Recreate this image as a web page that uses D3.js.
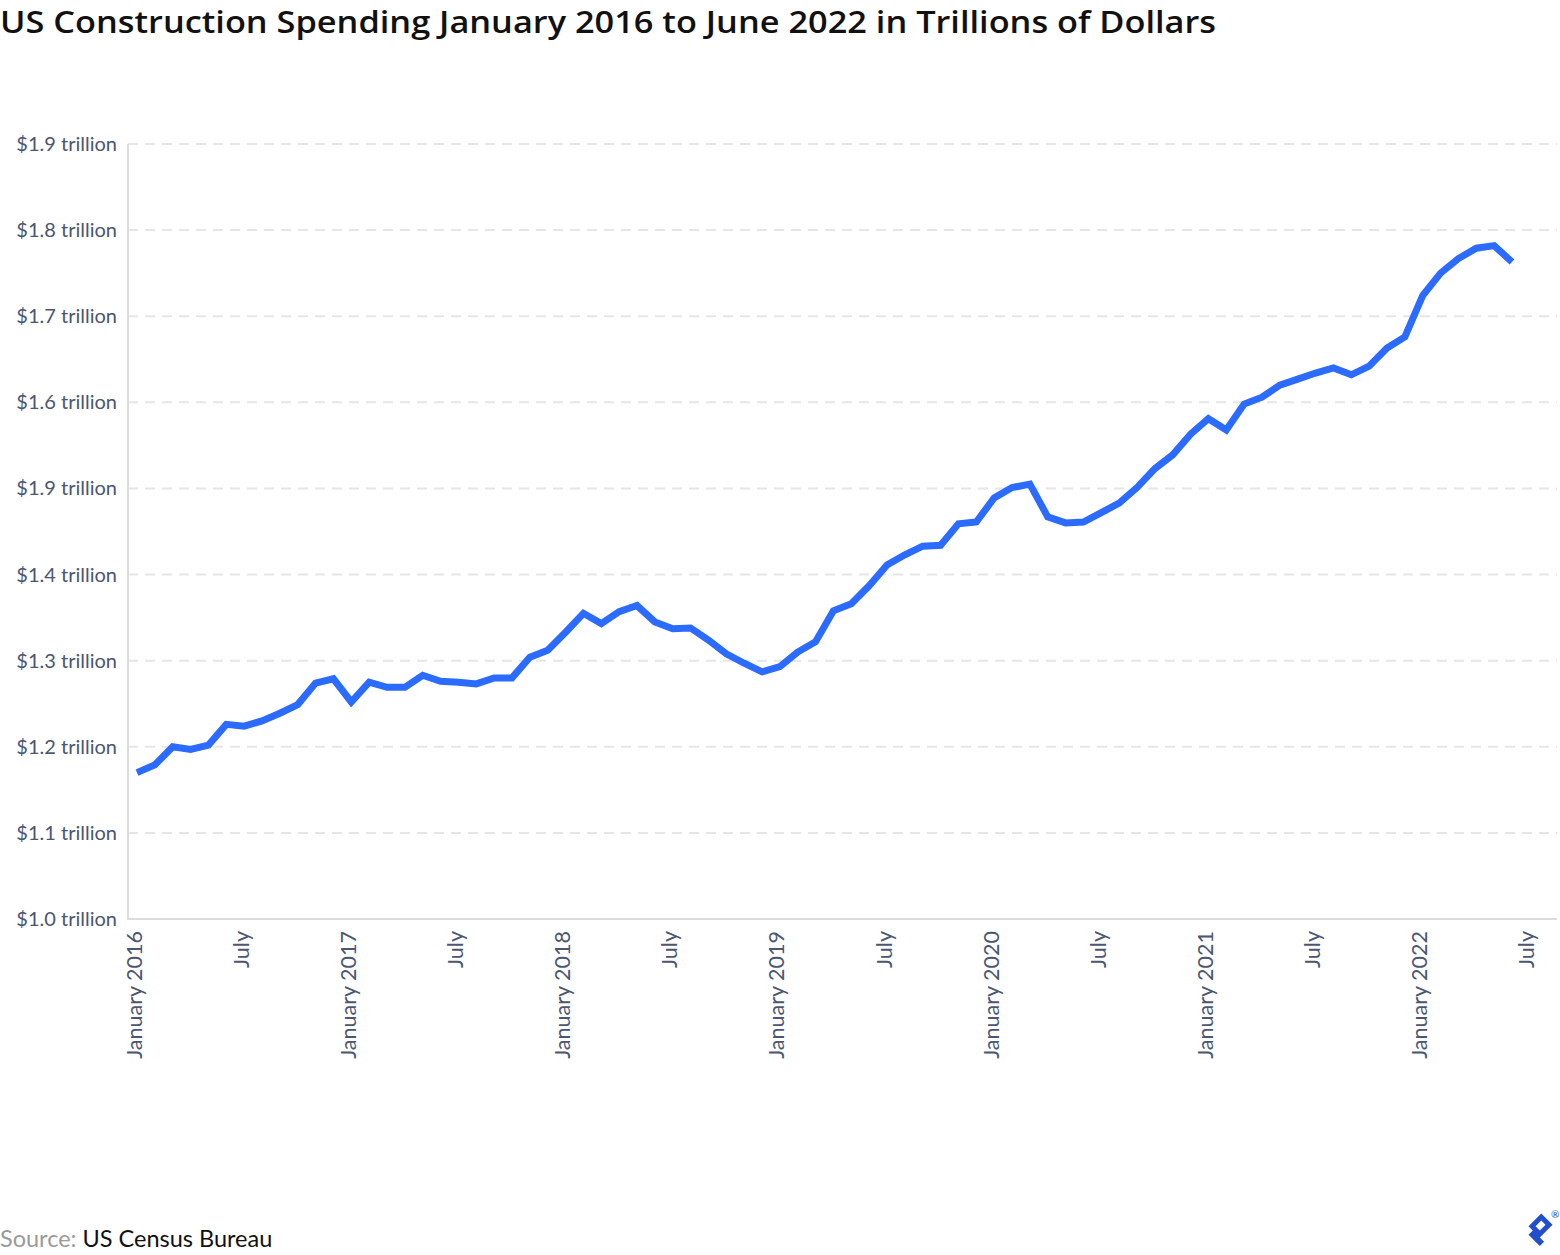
<html>
<head>
<style>
  body { margin: 0; background: #fff; font-family: Lato, "Open Sans", sans-serif; }
  svg { display: block; }
</style>
<script src="https://cdn.jsdelivr.net/npm/d3@7"></script>
</head>
<body>
<svg id="chart"></svg>
<script>
// monthly spending, trillions of dollars, Jan 2016 .. Jun 2022
const spending = [
  1.170, 1.179, 1.200, 1.197, 1.202, 1.226, 1.224, 1.230, 1.239, 1.249, 1.274, 1.279,
  1.252, 1.275, 1.269, 1.269, 1.283, 1.276, 1.275, 1.273, 1.280, 1.280, 1.304, 1.312,
  1.333, 1.355, 1.343, 1.357, 1.364, 1.345, 1.337, 1.338, 1.324, 1.308, 1.297, 1.287,
  1.293, 1.310, 1.322, 1.358, 1.366, 1.387, 1.411, 1.423, 1.433, 1.434, 1.459, 1.461,
  1.489, 1.501, 1.505, 1.467, 1.460, 1.461, 1.472, 1.483, 1.501, 1.523, 1.539, 1.563,
  1.581, 1.568, 1.598, 1.606, 1.620, 1.627, 1.634, 1.640, 1.632, 1.642, 1.663, 1.676,
  1.724, 1.750, 1.767, 1.779, 1.782, 1.763
]
const yTicks = [1.0, 1.1, 1.2, 1.3, 1.4, 1.5, 1.6, 1.7, 1.8, 1.9]
// labels as printed on the source chart (incl. its "$1.9" at the 1.5 line)
const yTickLabels = ["$1.0 trillion", "$1.1 trillion", "$1.2 trillion", "$1.3 trillion", "$1.4 trillion",
  "$1.9 trillion", "$1.6 trillion", "$1.7 trillion", "$1.8 trillion", "$1.9 trillion"]
const xTicks = [0, 6, 12, 18, 24, 30, 36, 42, 48, 54, 60, 66, 72, 78]
const xTickLabels = ["January 2016", "July", "January 2017", "July", "January 2018", "July",
  "January 2019", "July", "January 2020", "July", "January 2021", "July", "January 2022", "July"]

const width = 1560, height = 1255
const svg = d3.select("#chart").attr("width", width).attr("height", height)

const plotLeft = 128, plotRight = 1557, plotTop = 144, plotBottom = 919

let x = d3.scaleLinear().domain([0, 77]).range([137, 1512])
let y = d3.scaleLinear().domain([1.0, 1.9]).range([plotBottom, plotTop])

svg.append("text")
  .attr("x", 0).attr("y", 33)
  .attr("font-family", "'Open Sans', sans-serif")
  .attr("font-size", 30).attr("font-weight", 600).attr("fill", "#111")
  .attr("textLength", 1216).attr("lengthAdjust", "spacingAndGlyphs")
  .text("US Construction Spending January 2016 to June 2022 in Trillions of Dollars")

// gridlines
svg.append("g").selectAll("line").data(yTicks.slice(1)).enter().append("line")
  .attr("x1", plotLeft).attr("x2", plotRight)
  .attr("y1", d => y(d)).attr("y2", d => y(d))
  .attr("stroke", "#e6e6e6").attr("stroke-width", 2)
  .attr("stroke-dasharray", "10,7")

// axis lines
svg.append("line").attr("x1", plotLeft).attr("x2", plotLeft).attr("y1", plotTop).attr("y2", plotBottom + 1)
  .attr("stroke", "#dcdcdc").attr("stroke-width", 2)
svg.append("line").attr("x1", plotLeft).attr("x2", plotRight).attr("y1", plotBottom).attr("y2", plotBottom)
  .attr("stroke", "#dcdcdc").attr("stroke-width", 2)

// y labels
svg.append("g").selectAll("text").data(yTicks).enter().append("text")
  .attr("x", 117).attr("y", d => y(d)).attr("dy", "0.35em")
  .attr("text-anchor", "end").attr("font-size", 20).attr("fill", "#4b5671")
  .text((d, i) => yTickLabels[i])

// x labels
svg.append("g").selectAll("text").data(xTicks).enter().append("text")
  .attr("transform", d => `translate(${x(d) - 3},931) rotate(-90)`)
  .attr("dy", "0.35em")
  .attr("text-anchor", "end").attr("font-size", 21.5).attr("fill", "#4b5671")
  .text((d, i) => xTickLabels[i])

// line
let line = d3.line().x((d, i) => x(i)).y(d => y(d))
svg.append("path").datum(spending)
  .attr("d", line)
  .attr("fill", "none").attr("stroke", "#2b6bff").attr("stroke-width", 7)
  .attr("stroke-linejoin", "miter").attr("stroke-miterlimit", 2)

// source
let src = svg.append("text").attr("x", 0).attr("y", 1247).attr("font-size", 23.5)
src.append("tspan").attr("fill", "#9a9a9a").text("Source: ")
src.append("tspan").attr("fill", "#111").text("US Census Bureau")

// logo mark
let logo = svg.append("g").attr("transform", "translate(1537,1229) rotate(45)")
logo.append("path")
  .attr("d", "M-8,-14 L8,-14 L8,4 L14,4 L14,10 L-2,10 L-2,4 L-8,4 Z M-3,-9 L-3,-1 L3,-1 L3,-9 Z")
  .attr("fill", "#204ecf").attr("fill-rule", "evenodd")
svg.append("text").attr("x", 1551).attr("y", 1218).attr("font-size", 10).attr("fill", "#204ecf").text("®")
</script>
</body>
</html>
